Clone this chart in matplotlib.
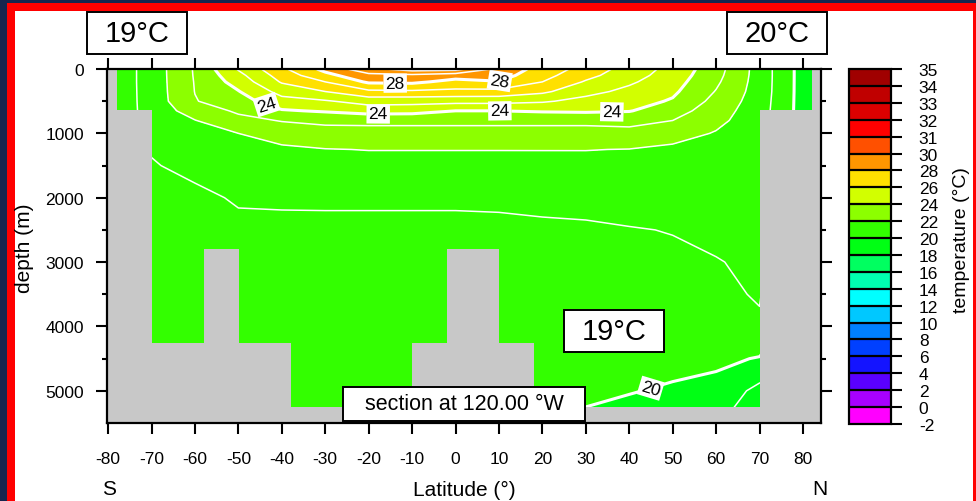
import numpy as np
import matplotlib
matplotlib.use("Agg")
import matplotlib.pyplot as plt
from matplotlib.colors import ListedColormap, BoundaryNorm
from matplotlib.patches import Rectangle

plt.rcParams['font.family'] = ['Liberation Sans', 'DejaVu Sans']
plt.rcParams['axes.unicode_minus'] = False

# ---------------- data ----------------
lat = [-80, -70, -60, -50, -40, -30, -20, -10, 0, 10, 20, 30, 40, 50, 60, 70, 80, 85]
depth = [0, 100, 200, 350, 500, 650, 800, 1000, 1250, 1500, 2000, 2500, 3000,
         3500, 4000, 4500, 5000, 5500]

# temperature profiles (degC), one row per latitude, values at the depths above
temp_profiles = [
    [20.2, 20.2, 20.2, 20.2, 20.2, 20.2, 20.2, 20.2, 20.3, 20.4, 20.5, 20.5, 20.5, 20.5, 20.45, 20.4, 20.35, 20.3],
    [21.42, 21.42, 21.42, 21.41, 21.40, 21.38, 21.30, 21.20, 21.05, 20.95, 20.80, 20.70, 20.65, 20.60, 20.55, 20.50, 20.45, 20.40],
    [23.10, 23.08, 23.05, 23.02, 22.95, 22.45, 21.97, 21.78, 21.50, 21.18, 20.85, 20.72, 20.65, 20.60, 20.55, 20.50, 20.45, 20.40],
    [25.09, 24.70, 24.40, 23.95, 23.55, 23.15, 22.72, 22.00, 21.72, 21.50, 21.07, 20.85, 20.75, 20.68, 20.60, 20.55, 20.50, 20.45],
    [26.81, 26.45, 26.10, 25.35, 24.65, 23.90, 23.05, 22.45, 21.82, 21.62, 21.08, 20.87, 20.78, 20.70, 20.62, 20.56, 20.50, 20.45],
    [28.28, 27.70, 27.00, 26.00, 24.90, 24.10, 23.20, 22.65, 21.97, 21.70, 21.08, 20.88, 20.78, 20.70, 20.62, 20.56, 20.50, 20.45],
    [29.71, 28.70, 28.15, 26.80, 25.40, 24.40, 23.20, 22.70, 22.02, 21.72, 21.08, 20.88, 20.78, 20.70, 20.62, 20.56, 20.50, 20.45],
    [30.50, 28.75, 28.20, 26.85, 25.35, 24.35, 23.20, 22.70, 22.02, 21.72, 21.08, 20.88, 20.78, 20.70, 20.62, 20.56, 20.50, 20.45],
    [30.40, 28.40, 27.70, 26.75, 25.30, 24.00, 23.20, 22.70, 22.02, 21.72, 21.08, 20.88, 20.78, 20.70, 20.62, 20.55, 20.45, 20.40],
    [28.72, 28.40, 27.95, 26.70, 25.30, 24.00, 23.20, 22.70, 22.02, 21.72, 21.10, 20.88, 20.78, 20.70, 20.60, 20.50, 20.38, 20.30],
    [27.61, 27.35, 27.00, 26.20, 25.12, 24.10, 23.20, 22.70, 22.02, 21.74, 21.15, 20.90, 20.80, 20.70, 20.58, 20.45, 20.28, 20.10],
    [26.62, 26.30, 25.90, 25.30, 24.70, 24.15, 23.20, 22.70, 22.02, 21.75, 21.18, 20.92, 20.80, 20.65, 20.50, 20.35, 20.15, 19.85],
    [25.58, 25.40, 25.15, 24.75, 24.40, 24.05, 23.30, 22.70, 21.98, 21.72, 21.25, 20.97, 20.85, 20.70, 20.55, 20.35, 20.05, 19.60],
    [24.68, 24.55, 24.40, 24.18, 23.90, 23.45, 23.00, 22.40, 21.80, 21.65, 21.30, 21.02, 20.90, 20.75, 20.55, 20.30, 19.88, 19.40],
    [23.40, 23.30, 23.17, 22.95, 22.70, 22.45, 22.25, 21.93, 21.68, 21.55, 21.35, 21.15, 20.97, 20.85, 20.55, 20.20, 19.70, 19.15],
    [21.58, 21.58, 21.57, 21.55, 21.50, 21.45, 21.42, 21.40, 21.35, 21.30, 21.22, 21.15, 21.12, 21.06, 20.90, 19.94, 18.70, 18.10],
    [19.60, 19.60, 19.60, 19.60, 19.60, 19.60, 19.60, 19.60, 19.60, 19.60, 19.60, 19.60, 19.60, 19.50, 19.40, 19.20, 18.80, 18.40],
    [19.40, 19.40, 19.40, 19.40, 19.40, 19.40, 19.40, 19.40, 19.40, 19.40, 19.40, 19.40, 19.40, 19.30, 19.20, 19.00, 18.70, 18.30],
]

# sea-floor / land (step profile): left edge longitude of each segment and its depth
land_lon = [-80.3, -77.9, -69.8, -57.9, -49.8, -37.9, -10.0, -2.0, 10.0, 18.1, 70.0, 82.1, 84.2]
land_depth = [0, 640, 4250, 2800, 4250, 5250, 4250, 2800, 4250, 5250, 640, 0, 0]

bounds = [-2, 0, 2, 4, 6, 8, 10, 12, 14, 16, 18, 20, 22, 24, 26, 28, 30, 31, 32, 33, 34, 35]
band_colors = ['#ff00ff', '#a800ff', '#5a00ff', '#1414ff', '#0040ff', '#0080ff',
               '#00c8ff', '#00ffff', '#00ffb0', '#00ff60', '#00ff14', '#33ff00',
               '#8cff00', '#d2ff00', '#ffe000', '#ff9600', '#ff5000', '#ff0000',
               '#dc0000', '#c00000', '#a00000']
thin_levels = [19, 21, 22, 23, 25, 26, 27, 29, 30]
labeled_levels = [20, 24, 28]
label_spots = [(-43.4, 530), (-17.8, 715), (10.2, 650), (36.0, 700),
               (-13.9, 265), (10.2, 190), (44.8, 4930)]

# ---------------- figure ----------------
W, H = 976, 502
fig = plt.figure(figsize=(W / 100, H / 100), dpi=100, facecolor='#16264f')


def fr(x0, y0, x1, y1):
    return [x0 / W, 1 - y1 / H, (x1 - x0) / W, (y1 - y0) / H]


r = fr(7, 4, 990, 520)
fig.add_artist(Rectangle((r[0], r[1]), r[2], r[3], transform=fig.transFigure,
                         facecolor='#ff0000', edgecolor='none', zorder=-10))
r = fr(15, 12, 973, 520)
fig.add_artist(Rectangle((r[0], r[1]), r[2], r[3], transform=fig.transFigure,
                         facecolor='white', edgecolor='none', zorder=-9))

ax = fig.add_axes(fr(107, 70, 821, 424))
T = np.array(temp_profiles).T
cmap = ListedColormap(band_colors)
norm = BoundaryNorm(bounds, cmap.N)
cf = ax.contourf(lat, depth, T, levels=bounds, cmap=cmap, norm=norm, zorder=1)
ax.contour(lat, depth, T, levels=thin_levels, colors='white', linewidths=1.1, zorder=2)
cs_lab = ax.contour(lat, depth, T, levels=labeled_levels, colors='white', linewidths=2.2, zorder=2)
txts = ax.clabel(cs_lab, manual=label_spots, inline=True, inline_spacing=2,
                 fontsize=12.5, fmt='%d', colors='black')
for t in txts:
    t.set_bbox(dict(boxstyle='square,pad=0.12', facecolor='white', edgecolor='none'))
    t.set_zorder(4)

ax.fill_between(land_lon, land_depth, 5600, step='post', color='#c8c8c8', lw=0, zorder=3)

ax.set_xlim(-80.25, 84.15)
ax.set_ylim(5500, 0)
ax.set_xticks(np.arange(-80, 81, 10))
ax.set_yticks([0, 1000, 2000, 3000, 4000, 5000])
ax.set_yticks(np.arange(500, 5500, 1000), minor=True)
ax.tick_params(axis='both', which='major', direction='out', length=8, width=1.5,
               top=True, right=True, labelsize=12.5, colors='black')
ax.tick_params(axis='y', which='minor', direction='out', length=3.8, width=1.5,
               left=True, right=True)
ax.tick_params(axis='x', pad=12)
ax.tick_params(axis='y', pad=8.5)
for s in ax.spines.values():
    s.set_linewidth(1.6)
    s.set_zorder(6)

# colorbar
cax = fig.add_axes(fr(849, 70, 891, 425))
cb = fig.colorbar(cf, cax=cax, ticks=bounds, spacing='uniform', drawedges=True)
cb.set_ticklabels([str(b) for b in bounds])
cb.outline.set_linewidth(1.6)
cb.dividers.set_linewidth(1.6)
cb.dividers.set_color('black')
cax.tick_params(length=8, width=1.5, pad=12, labelsize=12.5)

# labels
fig.text(962 / W, 1 - 240 / H, 'temperature (\u00b0C)', rotation=90,
         ha='center', va='center', fontsize=14)
fig.text(24 / W, 1 - 248 / H, 'depth (m)', rotation=90, ha='center', va='center', fontsize=15)
fig.text(464 / W, 1 - 490 / H, 'Latitude (\u00b0)', ha='center', va='center', fontsize=15)
fig.text(109 / W, 1 - 490 / H, 'S', ha='center', va='center', fontsize=15)
fig.text(820 / W, 1 - 490 / H, 'N', ha='center', va='center', fontsize=15)


def boxed(x0, y0, x1, y1, text, size):
    rr = fr(x0, y0, x1, y1)
    fig.add_artist(Rectangle((rr[0], rr[1]), rr[2], rr[3], transform=fig.transFigure,
                             facecolor='white', edgecolor='black', linewidth=1.4, zorder=8))
    fig.text((x0 + x1) / 2 / W, 1 - (y0 + y1) / 2 / H, text, ha='center', va='center',
             fontsize=size, zorder=9)


boxed(87, 13, 187, 55, '19\u00b0C', 21)
boxed(727, 13, 827, 55, '20\u00b0C', 21)
boxed(564, 311, 664, 353, '19\u00b0C', 21)
boxed(343, 388, 585, 422, 'section at 120.00 \u00b0W', 15.5)

fig.savefig('out.png', dpi=100, facecolor=fig.get_facecolor())
